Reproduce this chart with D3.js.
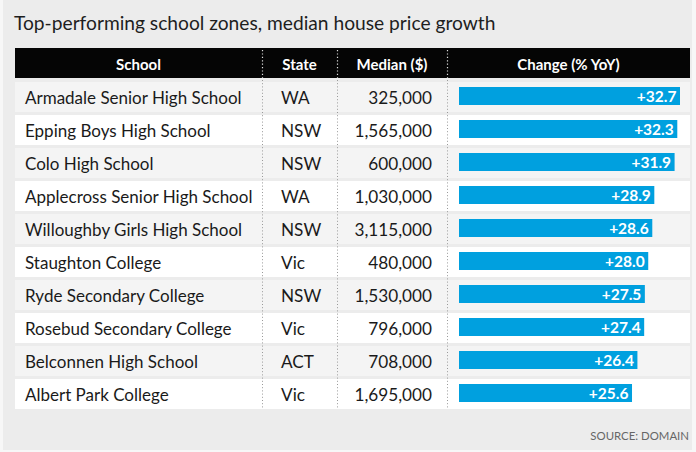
<!DOCTYPE html>
<html>
<head>
<meta charset="utf-8">
<script src="https://cdn.jsdelivr.net/npm/d3@7"></script>
<style>
html,body{margin:0;padding:0;background:#f7f7f7;}
svg{display:block;}
</style>
</head>
<body>
<svg id="chart" width="696" height="452"></svg>
<script>
const schools = ["Armadale Senior High School","Epping Boys High School","Colo High School","Applecross Senior High School","Willoughby Girls High School","Staughton College","Ryde Secondary College","Rosebud Secondary College","Belconnen High School","Albert Park College"];
const states = ["WA","NSW","NSW","WA","NSW","Vic","NSW","Vic","ACT","Vic"];
const medians = [325000,1565000,600000,1030000,3115000,480000,1530000,796000,708000,1695000];
const changes = [32.7,32.3,31.9,28.9,28.6,28.0,27.5,27.4,26.4,25.6];
const headers = ["School","State","Median ($)","Change (% YoY)"];
const title = "Top-performing school zones, median house price growth";
const source = "SOURCE: DOMAIN";

const svg = d3.select("#chart");
const font = "Lato, 'Open Sans', sans-serif";

// panel background
svg.append("rect").attr("x",3).attr("y",0).attr("width",689).attr("height",450).attr("fill","#ececec");

svg.append("text").attr("x",14).attr("y",30).attr("font-family",font).attr("font-size",19.2)
  .attr("fill","#1e1e1e").text(title);

const left = 15, right = 690;
const colEdges = [left, 262, 337, 447, right];

const y = d3.scaleBand().domain(d3.range(schools.length))
  .range([82, 409]).paddingInner(3/33).paddingOuter(0);
const rowH = y.bandwidth();

// header
svg.append("rect").attr("x",left).attr("y",48).attr("width",right-left).attr("height",30).attr("fill","#050505");
headers.forEach((h,i)=>{
  svg.append("text").attr("x",(colEdges[i]+colEdges[i+1])/2).attr("y",69.5)
    .attr("text-anchor","middle").attr("font-family",font).attr("font-weight","bold")
    .attr("font-size",15).attr("fill","#fff").text(h);
});

// rows
const rows = svg.append("g").selectAll("g").data(schools).join("g")
  .attr("transform",(d,i)=>`translate(0,${y(i)})`);
rows.append("rect").attr("x",left).attr("width",right-left).attr("height",rowH)
  .attr("fill",(d,i)=> i%2===0 ? "#f4f4f4" : "#ffffff");

rows.append("text").attr("x",25).attr("y",22).attr("font-family",font).attr("font-size",17)
  .attr("fill","#1a1a1a").text(d=>d);
rows.append("text").attr("x",281).attr("y",22).attr("font-family",font).attr("font-size",17.2)
  .attr("fill","#1a1a1a").text((d,i)=>states[i]);
const fmt = d3.format(",");
rows.append("text").attr("x",432).attr("y",22).attr("text-anchor","end").attr("font-family",font).attr("font-size",17.2)
  .attr("fill","#1a1a1a").text((d,i)=>fmt(medians[i]));

const x = d3.scaleLinear().domain([0,32.7]).range([459,680]);
rows.append("rect").attr("x",x(0)).attr("y",5).attr("height",18)
  .attr("width",(d,i)=>x(changes[i])-x(0)).attr("fill","#00a0df");
rows.append("text").attr("x",(d,i)=>x(changes[i])-3.5).attr("y",19.8).attr("text-anchor","end")
  .attr("font-family",font).attr("font-weight","bold").attr("font-size",15.5).attr("fill","#fff")
  .text((d,i)=>"+"+changes[i].toFixed(1));

// dotted separators
[262,337,447].forEach(cx=>{
  svg.append("line").attr("x1",cx+0.5).attr("x2",cx+0.5).attr("y1",50).attr("y2",78)
    .attr("stroke","#ddd").attr("stroke-width",1.2).attr("stroke-dasharray","1.2,2.2");
  svg.append("line").attr("x1",cx+0.5).attr("x2",cx+0.5).attr("y1",80).attr("y2",y(schools.length-1)+rowH)
    .attr("stroke","#999").attr("stroke-width",1).attr("stroke-dasharray","1,2.2");
});

svg.append("text").attr("x",689).attr("y",440).attr("text-anchor","end").attr("font-family",font)
  .attr("font-size",11.4).attr("fill","#666").text(source);
</script>
</body>
</html>
